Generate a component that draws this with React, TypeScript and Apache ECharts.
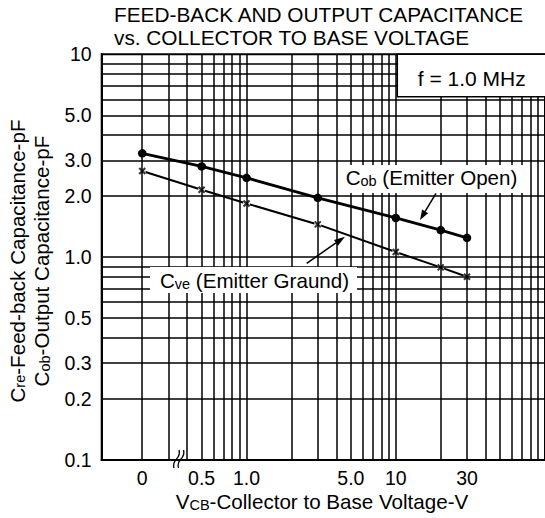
import React, { useEffect, useRef } from "react";
import * as echarts from "echarts";

// ---- data ----
const voltage = [0, 0.5, 1, 3, 10, 20, 30];
const cobValues = [3.25, 2.8, 2.46, 1.96, 1.56, 1.36, 1.245];
const cveValues = [2.66, 2.15, 1.84, 1.45, 1.06, 0.89, 0.8];

// V = 0 is drawn at this position of the broken log axis
const ZERO_POS = 0.2;

const xTickValues = [0, 0.5, 1, 5, 10, 30];
const xTickLabels = ["0", "0.5", "1.0", "5.0", "10", "30"];
const yTickValues = [10, 5, 3, 2, 1, 0.5, 0.3, 0.2, 0.1];
const yTickLabels = ["10", "5.0", "3.0", "2.0", "1.0", "0.5", "0.3", "0.2", "0.1"];

const xGridValues = [
  0.2, 0.3, 0.4, 0.5, 0.6, 0.7, 0.8, 0.9,
  1, 2, 3, 4, 5, 6, 7, 8, 9,
  10, 20, 30, 40, 50, 60, 70, 80, 90,
];
const yGridValues = [
  0.2, 0.3, 0.4, 0.5, 0.6, 0.7, 0.8, 0.9,
  1, 2, 3, 4, 5, 6, 7, 8, 9,
];

const FONT = "'Liberation Sans', Arial, Helvetica, sans-serif";
const FS = 20.6;

const toX = (v: number) => (v === 0 ? ZERO_POS : v);

function arrow(x1: number, y1: number, x2: number, y2: number, headLen: number, headW: number, lw: number) {
  const dx = x2 - x1;
  const dy = y2 - y1;
  const len = Math.sqrt(dx * dx + dy * dy);
  const ux = dx / len;
  const uy = dy / len;
  const bx = x2 - ux * headLen;
  const by = y2 - uy * headLen;
  const px = -uy * headW / 2;
  const py = ux * headW / 2;
  return [
    {
      type: "line",
      z: 60,
      shape: { x1, y1, x2: bx, y2: by },
      style: { stroke: "#000", lineWidth: lw },
    },
    {
      type: "polygon",
      z: 60,
      shape: { points: [[x2, y2], [bx + px, by + py], [bx - px, by - py]] },
      style: { fill: "#000" },
    },
  ];
}

const rich = {
  m: { fontSize: FS, fontFamily: FONT, color: "#000", verticalAlign: "bottom" },
  s: { fontSize: 14.5, fontFamily: FONT, color: "#000", verticalAlign: "bottom" },
};

const tickLabel = (text: string, distance: number) => ({
  show: true,
  position: "start",
  distance,
  formatter: text,
  color: "#000",
  opacity: 1,
  fontSize: 19.5,
  fontFamily: FONT,
});

export default function App() {
  const ref = useRef<HTMLDivElement>(null);

  useEffect(() => {
    const chart = echarts.init(ref.current!, null, { renderer: "svg" });

    const option: any = {
      animation: false,
      backgroundColor: "#fff",
      grid: {
        left: 101.7,
        top: 54.3,
        bottom: 58,
        right: -2.3,
        show: true,
        borderColor: "#000",
        borderWidth: 2,
        backgroundColor: "#fff",
      },
      xAxis: {
        type: "log",
        logBase: 10,
        min: 0.107,
        max: 100,
        axisLine: { show: true, lineStyle: { color: "#000", width: 2 } },
        axisTick: { show: false },
        axisLabel: { show: false },
        splitLine: { show: false },
      },
      yAxis: {
        type: "log",
        logBase: 10,
        min: 0.1,
        max: 10,
        axisLine: { show: true, lineStyle: { color: "#000", width: 2 } },
        axisTick: { show: false },
        axisLabel: { show: false },
        splitLine: { show: false },
      },
      series: [
        {
          name: "grid",
          type: "line",
          data: [],
          z: 1,
          silent: true,
          markLine: {
            silent: true,
            symbol: ["none", "none"],
            label: { show: false },
            lineStyle: { color: "#000", width: 1.5, type: "solid" },
            emphasis: { disabled: true },
            data: [
              ...xGridValues.map((v) => ({ xAxis: v })),
              ...yGridValues.map((v) => ({ yAxis: v })),
            ],
          },
        },
        {
          name: "ticks",
          type: "line",
          data: [],
          z: 1,
          silent: true,
          markLine: {
            silent: true,
            symbol: ["none", "none"],
            lineStyle: { color: "rgba(0,0,0,0)", width: 0, type: "solid" },
            emphasis: { disabled: true },
            data: [
              ...yTickValues.map((v, i) => ({
                yAxis: v,
                label: tickLabel(yTickLabels[i], 10),
              })),
              ...xTickValues.map((v, i) => ({
                xAxis: toX(v),
                label: tickLabel(xTickLabels[i], 8),
              })),
            ],
          },
        },
        {
          name: "Cob (Emitter Open)",
          type: "line",
          z: 3,
          data: voltage.map((v, i) => [toX(v), cobValues[i]]),
          symbol: "circle",
          symbolSize: 8.5,
          itemStyle: { color: "#000" },
          lineStyle: { color: "#000", width: 2.8 },
          silent: true,
        },
        {
          name: "Cve (Emitter Graund)",
          type: "line",
          z: 3,
          data: voltage.map((v, i) => [toX(v), cveValues[i]]),
          symbol: "none",
          lineStyle: { color: "#000", width: 2 },
          silent: true,
        },
        {
          name: "Cve halo",
          type: "scatter",
          z: 4,
          data: voltage.map((v, i) => [toX(v), cveValues[i]]),
          symbol: "rect",
          symbolSize: 7,
          itemStyle: { color: "#fff" },
          silent: true,
        },
        {
          name: "Cve marks",
          type: "scatter",
          z: 5,
          data: voltage.map((v, i) => [toX(v), cveValues[i]]),
          symbol: "path://M0,0L10,10M10,0L0,10",
          symbolSize: 6,
          itemStyle: { color: "transparent", borderColor: "#000", borderWidth: 2 },
          silent: true,
        },
      ],
      graphic: [
        // title
        {
          type: "text",
          z: 60,
          x: 114,
          y: 14,
          style: {
            text: "FEED-BACK AND OUTPUT CAPACITANCE",
            fontSize: 20.8,
            fontFamily: FONT,
            fill: "#000",
            align: "left",
            verticalAlign: "middle",
          },
        },
        {
          type: "text",
          z: 60,
          x: 114,
          y: 37,
          style: {
            text: "vs. COLLECTOR TO BASE VOLTAGE",
            fontSize: 20.8,
            fontFamily: FONT,
            fill: "#000",
            align: "left",
            verticalAlign: "middle",
          },
        },
        // f = 1.0 MHz box
        {
          type: "rect",
          z: 50,
          shape: { x: 397.3, y: 54.3, width: 160, height: 42.4 },
          style: { fill: "#fff", stroke: "#000", lineWidth: 1.5 },
        },
        {
          type: "text",
          z: 60,
          x: 471.7,
          y: 78.3,
          style: {
            text: "f = 1.0 MHz",
            fontSize: 21,
            fontFamily: FONT,
            fill: "#000",
            align: "center",
            verticalAlign: "middle",
          },
        },
        // Cob label
        {
          type: "rect",
          z: 50,
          shape: { x: 342, y: 165, width: 181, height: 28 },
          style: { fill: "#fff" },
        },
        {
          type: "text",
          z: 60,
          x: 431.5,
          y: 177.5,
          style: {
            text: "{m|C}{s|ob}{m| (Emitter Open)}",
            rich,
            align: "center",
            verticalAlign: "middle",
          },
        },
        // Cve label
        {
          type: "rect",
          z: 50,
          shape: { x: 150, y: 267, width: 207, height: 26 },
          style: { fill: "#fff" },
        },
        {
          type: "text",
          z: 60,
          x: 254.5,
          y: 280.5,
          style: {
            text: "{m|C}{s|ve}{m| (Emitter Graund)}",
            rich,
            align: "center",
            verticalAlign: "middle",
          },
        },
        ...arrow(436, 193.3, 420, 220, 10, 7, 1.5),
        ...arrow(306.7, 263.3, 345, 236.7, 11, 7, 1.5),
        // axis break marks
        {
          type: "bezierCurve",
          z: 60,
          shape: { x1: 174, y1: 468, cpx1: 171, cpy1: 459, cpx2: 182, cpy2: 459, x2: 179, y2: 450 },
          style: { stroke: "#000", lineWidth: 1.3, fill: "none" },
        },
        {
          type: "bezierCurve",
          z: 60,
          shape: { x1: 178.5, y1: 468, cpx1: 175.5, cpy1: 459, cpx2: 186.5, cpy2: 459, x2: 183.5, y2: 450 },
          style: { stroke: "#000", lineWidth: 1.3, fill: "none" },
        },
        // x axis name
        {
          type: "text",
          z: 60,
          x: 322,
          y: 501.5,
          style: {
            text: "{m|V}{s|CB}{m|-Collector to Base Voltage-V}",
            rich,
            align: "center",
            verticalAlign: "middle",
          },
        },
        // y axis names
        {
          type: "text",
          z: 60,
          x: 17,
          y: 261,
          rotation: Math.PI / 2,
          style: {
            text: "{m|C}{s|re}{m|-Feed-back Capacitance-pF}",
            rich,
            align: "center",
            verticalAlign: "middle",
          },
        },
        {
          type: "text",
          z: 60,
          x: 41.7,
          y: 261,
          rotation: Math.PI / 2,
          style: {
            text: "{m|C}{s|ob}{m|-Output Capacitance-pF}",
            rich,
            align: "center",
            verticalAlign: "middle",
          },
        },
      ],
    };

    chart.setOption(option);
    return () => chart.dispose();
  }, []);

  return (
    <div
      ref={ref}
      style={{ position: "fixed", left: 0, top: 0, width: 545, height: 518, background: "#fff" }}
    />
  );
}
